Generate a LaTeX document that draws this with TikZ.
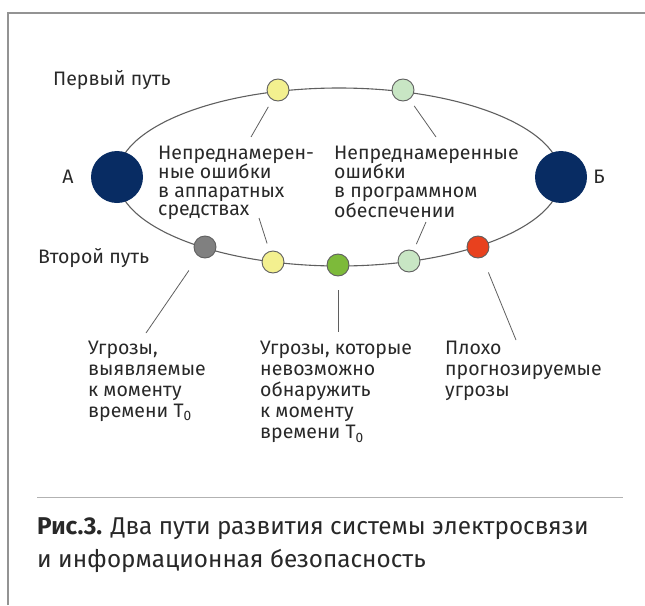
\documentclass[tikz,border=0pt]{standalone}
\usepackage{fontspec}
\setmainfont{Fira Sans}
\usepackage{tikz}
\usetikzlibrary{positioning}

\definecolor{navyend}{RGB}{8,44,99}
\definecolor{paleyellow}{RGB}{243,240,143}
\definecolor{palegreen}{RGB}{200,230,196}
\definecolor{leafgreen}{RGB}{125,186,58}
\definecolor{midgray}{RGB}{128,128,128}
\definecolor{alertred}{RGB}{232,65,30}
\definecolor{rimgray}{RGB}{95,95,95}
\definecolor{inkgray}{RGB}{40,40,40}

\begin{document}
\begin{tikzpicture}[x=1pt, y=-1pt,
			endnode/.style={circle, fill=navyend, inner sep=0pt, minimum size=52pt},
			dotnode/.style={circle, draw=rimgray, line width=0.9pt, inner sep=0pt, minimum size=22pt},
			lbl/.style={inner sep=0pt, text=inkgray, font=\fontsize{19.5}{18.5}\selectfont},
			block/.style={lbl, align=left, anchor=north west},
			lowblock/.style={block, font=\fontsize{19.5}{21.2}\selectfont},
			lead/.style={draw=rimgray, line width=0.8pt},
			]
			\useasboundingbox (0,0) rectangle (645,605);
			%Frame
			\draw[gray!85, line width=1.5pt] (8,605) -- (8,13) -- (645,13);

			%Paths
			\draw[rimgray, line width=1.1pt] (339,177) ellipse [x radius=222pt, y radius=89pt];

			%Nodes
			\node[endnode] (A) at (117,177) {};
			\node[endnode] (B) at (561,177) {};
			\node[lbl] (labA) [left=17pt of A] {А};
			\node[lbl] (labB) [right=6pt of B] {Б};

			\node[dotnode, fill=paleyellow] (hwtop) at (278,90) {};
			\node[dotnode, fill=palegreen]  (swtop) at (403,90) {};

			\node[dotnode, fill=midgray]    (seen)  at (205,247) {};
			\node[dotnode, fill=paleyellow] (hwbot) at (273,262) {};
			\node[dotnode, fill=leafgreen]  (hidden) at (338,265) {};
			\node[dotnode, fill=palegreen]  (swbot) at (409,261) {};
			\node[dotnode, fill=alertred]   (vague) at (478,247) {};

			%Texts
			\node[lbl, anchor=west] (first)  at (53,80)  {Первый путь};
			\node[lbl, anchor=west] (second) at (38,258) {Второй путь};

			\node[block] (hwtext) at (158,145.5) {Непреднамерен-\\ные ошибки\\в аппаратных\\средствах};
			\node[block] (swtext) at (334,145.5) {Непреднамеренные\\ошибки\\в программном\\обеспечении};

			\node[lowblock] (seentext)   at (88,340.5)  {Угрозы,\\выявляемые\\к моменту\\времени T\textsubscript{0}};
			\node[lowblock] (hiddentext) at (260,340.5) {Угрозы, которые\\невозможно\\обнаружить\\к моменту\\времени T\textsubscript{0}};
			\node[lowblock] (vaguetext)  at (445,340.5) {Плохо\\прогнозируемые\\угрозы};

			%Leaders
			\coordinate (hwtopend)  at (251,137);
			\coordinate (swtopend)  at (436,137);
			\coordinate (hwbotend)  at (259,218);
			\coordinate (swbotend)  at (426,222);
			\coordinate (seenend)   at (146,333);
			\coordinate (hiddenend) at (338,332);
			\coordinate (vagueend)  at (516,340);

			\draw[lead, shorten <=8pt] (hwtop) -- (hwtopend);
			\draw[lead, shorten <=8pt] (swtop) -- (swtopend);
			\draw[lead, shorten <=8pt] (hwbot) -- (hwbotend);
			\draw[lead, shorten <=7pt] (swbot) -- (swbotend);
			\draw[lead, shorten <=17pt] (seen) -- (seenend);
			\draw[lead, shorten <=14pt] (hidden) -- (hiddenend);
			\draw[lead, shorten <=16pt] (vague) -- (vagueend);

			%Caption
			\coordinate (ruleL) at (37,497);
			\coordinate (ruleR) at (623,497);
			\draw[gray!60, line width=1pt] (ruleL) -- (ruleR);
			\node[block, font=\fontsize{24.3}{33}\selectfont] (caption) at (37,517)
				{\textbf{Рис.3.} Два пути развития системы электросвязи\\и информационная безопасность};
		\end{tikzpicture}
\end{document}
